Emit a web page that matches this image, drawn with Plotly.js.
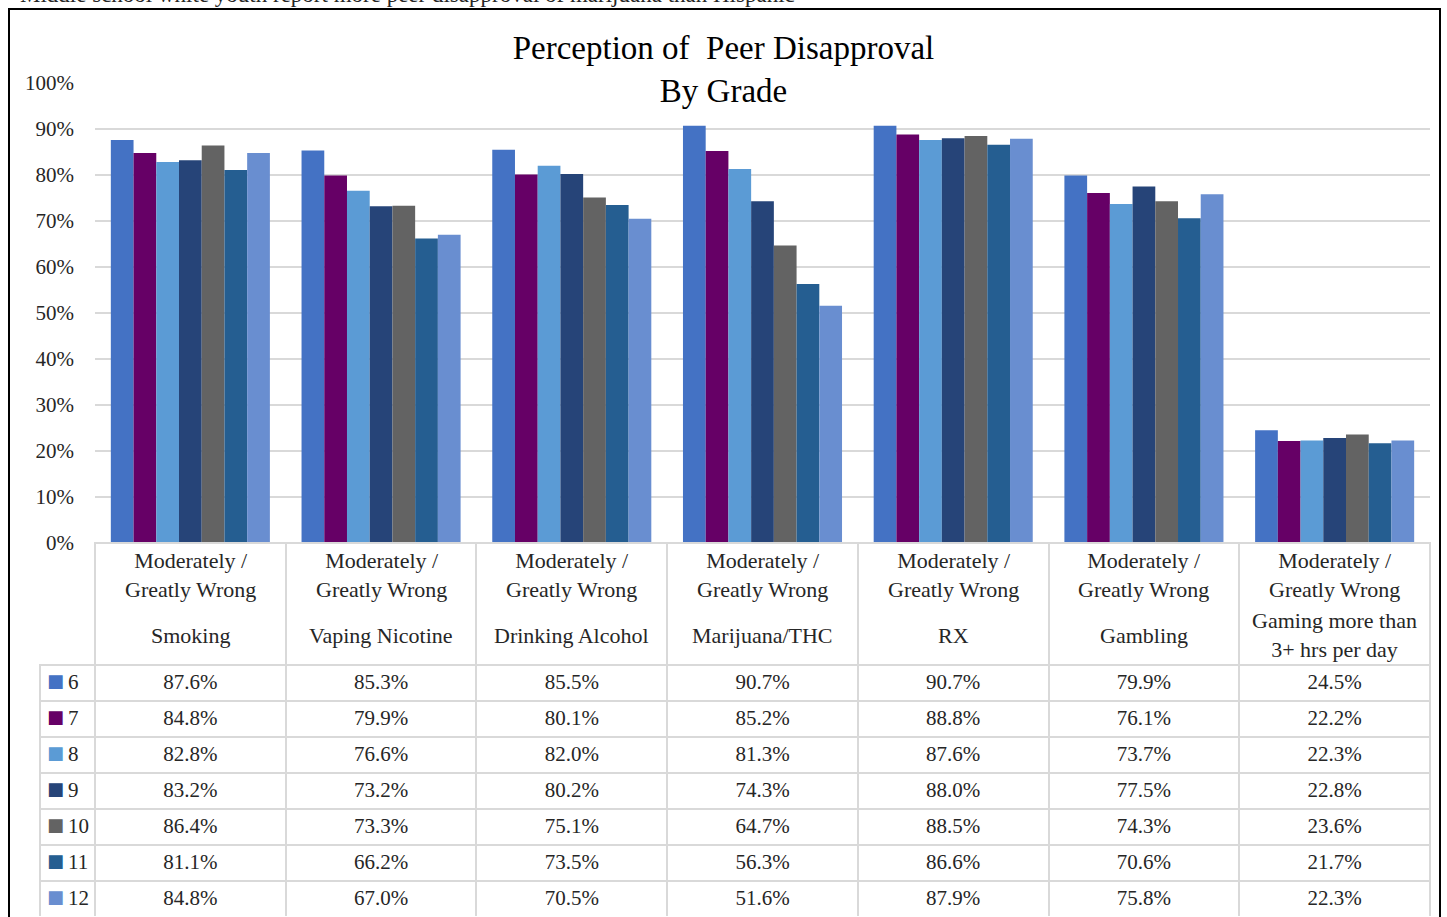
<!DOCTYPE html>
<html>
<head>
<meta charset="utf-8">
<script src="https://cdn.plot.ly/plotly-3.0.1.min.js"></script>
<style>
  html, body { margin: 0; padding: 0; background: #fff; }
  #my_graph { width: 1447px; height: 917px; }
</style>
</head>
<body>
<div id="my_graph"></div>
<script>
// categories along the x axis
const categories = ['Smoking', 'Vaping Nicotine', 'Drinking Alcohol', 'Marijuana/THC', 'RX', 'Gambling', 'Gaming more than 3+ hrs per day'];
const cat_labels = ['Smoking', 'Vaping Nicotine', 'Drinking Alcohol', 'Marijuana/THC', 'RX', 'Gambling', 'Gaming more than<br>3+ hrs per day'];
const sub_label = 'Moderately /<br>Greatly Wrong';

// one array per grade (percent)
const grades = ['6', '7', '8', '9', '10', '11', '12'];
const grade_6 = [87.6, 85.3, 85.5, 90.7, 90.7, 79.9, 24.5];
const grade_7 = [84.8, 79.9, 80.1, 85.2, 88.8, 76.1, 22.2];
const grade_8 = [82.8, 76.6, 82.0, 81.3, 87.6, 73.7, 22.3];
const grade_9 = [83.2, 73.2, 80.2, 74.3, 88.0, 77.5, 22.8];
const grade_10 = [86.4, 73.3, 75.1, 64.7, 88.5, 74.3, 23.6];
const grade_11 = [81.1, 66.2, 73.5, 56.3, 86.6, 70.6, 21.7];
const grade_12 = [84.8, 67.0, 70.5, 51.6, 87.9, 75.8, 22.3];
const all_grades = [grade_6, grade_7, grade_8, grade_9, grade_10, grade_11, grade_12];

const colors = ['#4472C4', '#660066', '#5B9BD5', '#264478', '#636363', '#255E91', '#698ED0'];

const W = 1447, H = 917;
const px_x = (p) => p / W;
const px_y = (p) => 1 - p / H;
const font_family = '"Liberation Serif", "DejaVu Serif", serif';
const text_color = '#262626';
const clear = 'rgba(0,0,0,0)';

const bars = all_grades.map((vals, i) => ({
    type: 'bar',
    name: grades[i],
    x: categories,
    y: vals.map(v => v / 100),
    marker: {color: colors[i], line: {width: 0}},
    hoverinfo: 'x+y+name'
}));

// data table under the chart (first column left empty, the keys go on top)
const value_cols = categories.map((c, ci) => all_grades.map(vals => vals[ci].toFixed(1) + '%'));
const table = {
    type: 'table',
    domain: {x: [px_x(40), px_x(1430)], y: [0, px_y(543)]},
    columnwidth: [55].concat(categories.map(() => 190.7)),
    header: {
        values: [''].concat(categories.map(() => '')),
        height: 122,
        fill: {color: clear},
        line: {color: [clear].concat(categories.map(() => '#d9d9d9')), width: 2}
    },
    cells: {
        values: [grades.map(() => '')].concat(value_cols),
        height: 36,
        align: 'center',
        fill: {color: 'white'},
        line: {color: '#d9d9d9', width: 2},
        font: {family: font_family, size: 21, color: text_color}
    }
};

// legend keys laid over the first column: coloured squares, then grade numbers
const overlay = (x0, x1, values, font) => ({
    type: 'table',
    domain: {x: [px_x(x0), px_x(x1)], y: [0, px_y(543)]},
    header: {values: [''], height: 122, fill: {color: clear}, line: {color: clear, width: 0}},
    cells: {
        values: [values],
        height: 36,
        align: 'left',
        fill: {color: clear},
        line: {color: clear, width: 0},
        font: font
    }
});
const key_squares = overlay(39, 75, grades.map(() => '■'),
    {family: '"DejaVu Sans", sans-serif', size: 18, color: [colors]});
const key_labels = overlay(60, 95, grades,
    {family: font_family, size: 21, color: text_color});

const annotations = [];
categories.forEach((c, i) => {
    annotations.push({
        x: c, xref: 'x', y: px_y(575), yref: 'paper', yanchor: 'middle',
        text: sub_label, showarrow: false,
        font: {family: font_family, size: 22, color: text_color}
    });
    annotations.push({
        x: c, xref: 'x', y: px_y(635), yref: 'paper', yanchor: 'middle',
        text: cat_labels[i], showarrow: false,
        font: {family: font_family, size: 22, color: text_color}
    });
});
// caption above the frame, mostly cut off by the page edge
annotations.push({
    x: px_x(18), xref: 'paper', xanchor: 'left',
    y: px_y(9), yref: 'paper', yanchor: 'bottom',
    text: 'Middle school white youth report more peer disapproval of marijuana than Hispanic',
    showarrow: false,
    font: {family: font_family, size: 23, color: text_color}
});

const layout = {
    width: W,
    height: H,
    margin: {l: 0, r: 0, t: 0, b: 0},
    paper_bgcolor: 'white',
    plot_bgcolor: 'white',
    showlegend: false,
    bargap: 0.166,
    bargroupgap: 0,
    title: {
        text: 'Perception of  Peer Disapproval<br>By Grade',
        x: 0.5, xref: 'paper', xanchor: 'center',
        y: px_y(59), yref: 'container', yanchor: 'top',
        font: {family: font_family, size: 33, color: '#000'}
    },
    xaxis: {
        domain: [px_x(95), px_x(1430)],
        type: 'category',
        showticklabels: false,
        showgrid: false,
        zeroline: false,
        showline: false,
        ticks: ''
    },
    yaxis: {
        domain: [px_y(543), px_y(83)],
        range: [0, 1],
        dtick: 0.1,
        tickformat: '.0%',
        showgrid: true,
        gridcolor: '#d9d9d9',
        gridwidth: 2,
        zeroline: false,
        showline: false,
        ticks: '',
        ticklabelstandoff: 20,
        tickfont: {family: font_family, size: 21, color: text_color}
    },
    annotations: annotations,
    shapes: [{
        type: 'rect', xref: 'paper', yref: 'paper',
        x0: px_x(9), x1: px_x(1440), y0: -0.05, y1: px_y(9),
        line: {color: '#000', width: 2}, fillcolor: clear
    }]
};

Plotly.newPlot('my_graph', bars.concat([table, key_squares, key_labels]), layout, {displayModeBar: false, staticPlot: true});
</script>
</body>
</html>
